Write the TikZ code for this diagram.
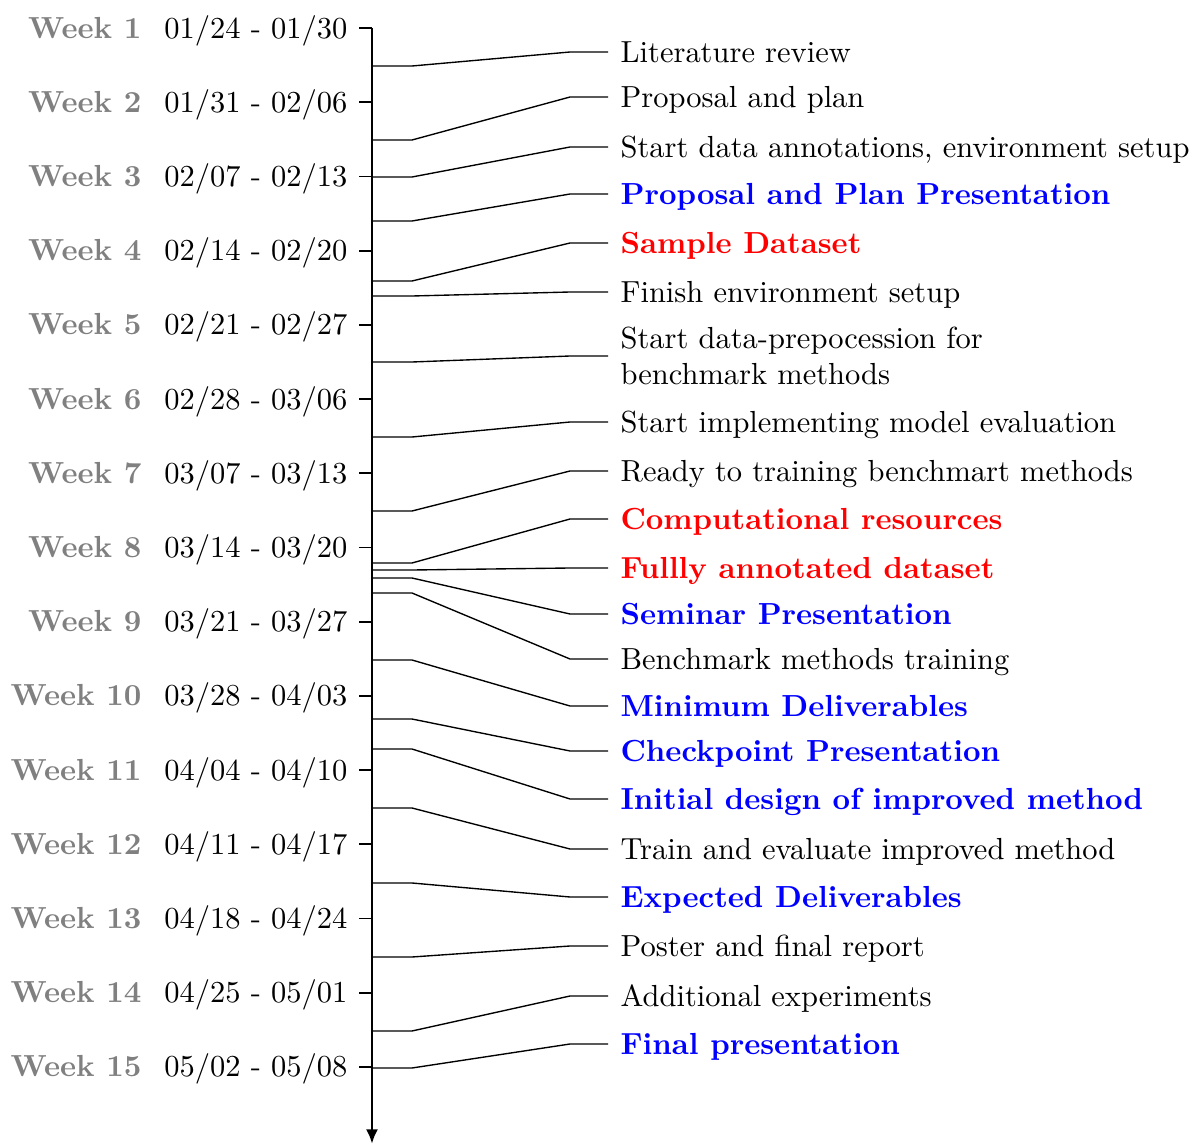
\documentclass[tikz,border=0pt]{standalone}
\usetikzlibrary{arrows.meta}
\begin{document}
\begin{tikzpicture}[x=0.328pt,y=-0.328pt,
  axisline/.style={line width=0.95pt,-{Latex[length=4.8pt,width=4pt]}},
  weektick/.style={line width=0.6pt},
  evline/.style={line width=0.45pt},
  evtext/.style={anchor=base west,yshift=-3.3pt,inner ysep=0pt,inner xsep=3.94pt},
  evplain/.style={evtext,text=black},
  evblue/.style={evtext,text=blue,font=\bfseries},
  evred/.style={evtext,text=red,font=\bfseries},
  weeklbl/.style={anchor=base east,inner sep=0pt,text=gray,font=\bfseries},
  datelbl/.style={anchor=base east,inner sep=0pt,text=black},
]
\useasboundingbox (0,0) rectangle (1196,1145);

% axis
\coordinate (axtop) at (372,28);
\coordinate (axbot) at (372,1144);
\draw[axisline] (axtop) -- (axbot);

% weeks
\foreach \i/\dt in {1/{01/24 - 01/30},2/{01/31 - 02/06},3/{02/07 - 02/13},4/{02/14 - 02/20},
  5/{02/21 - 02/27},6/{02/28 - 03/06},7/{03/07 - 03/13},8/{03/14 - 03/20},
  9/{03/21 - 03/27},10/{03/28 - 04/03},11/{04/04 - 04/10},12/{04/11 - 04/17},
  13/{04/18 - 04/24},14/{04/25 - 05/01},15/{05/02 - 05/08}} {
  \pgfmathsetmacro{\ty}{28+74.214*(\i-1)}
  \coordinate (t\i) at (372,\ty);
  \coordinate (ts\i) at (359,\ty);
  \draw[weektick] (t\i) -- (ts\i);
  \node[datelbl] (d\i) at (348,\ty+10) {\dt};
  \node[weeklbl] (w\i) at (142,\ty+10) {Week \i};
}

% events
\foreach \n/\ay/\ly/\st/\txt in {
  1/66/52/evplain/{Literature review},
  2/140/97/evplain/{Proposal and plan},
  3/177/147/evplain/{Start data annotations, environment setup},
  4/221/194/evblue/{Proposal and Plan Presentation},
  5/281/243/evred/{Sample Dataset},
  6/296/292/evplain/{Finish environment setup},
  8/437/422/evplain/{Start implementing model evaluation},
  9/511/471/evplain/{Ready to training benchmart methods},
  10/563/519/evred/{Computational resources},
  11/570/568/evred/{Fullly annotated dataset},
  12/578/614/evblue/{Seminar Presentation},
  13/593/659/evplain/{Benchmark methods training},
  14/660/706/evblue/{Minimum Deliverables},
  15/719/751/evblue/{Checkpoint Presentation},
  16/749/799/evblue/{Initial design of improved method},
  17/808/849/evplain/{Train and evaluate improved method},
  18/883/897/evblue/{Expected Deliverables},
  19/957/946/evplain/{Poster and final report},
  20/1031/996/evplain/{Additional experiments},
  21/1068/1044/evblue/{Final presentation}} {
  \coordinate (a\n) at (372,\ay);
  \coordinate (e\n) at (608,\ly);
  \node[\st] (l\n) at (e\n) {\txt};
  \draw[evline] (a\n) -- ++(40,0) -- (570,\ly) -- (e\n);
}

% two-line event
\coordinate (a7) at (372,362);
\coordinate (e7) at (608,356);
\node[anchor=west,inner ysep=0pt,inner xsep=3.94pt,align=left] (l7) at (e7)
  {Start data-prepocession for\\benchmark methods};
\draw[evline] (a7) -- ++(40,0) -- (570,356) -- (e7);
\end{tikzpicture}
\end{document}
